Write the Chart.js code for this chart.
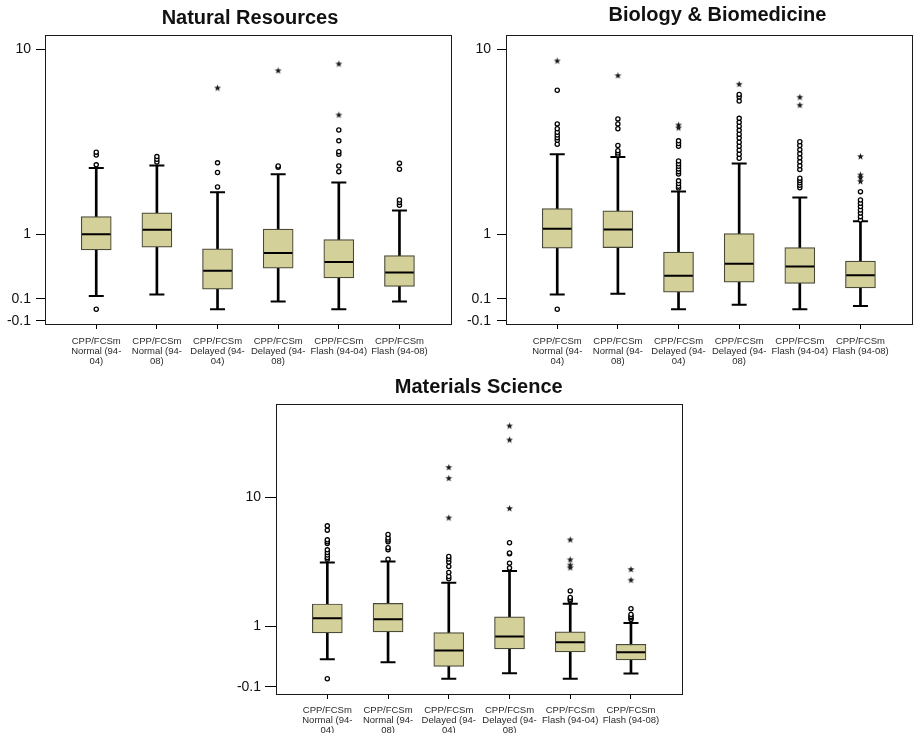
<!DOCTYPE html>
<html>
<head>
<meta charset="utf-8">
<script src="https://cdn.jsdelivr.net/npm/chart.js@4"></script>
<style>
  html, body { margin: 0; padding: 0; background: #ffffff; }
  body { width: 913px; height: 733px; position: relative; overflow: hidden; }
  .panel { position: absolute; }
</style>
</head>
<body>
<div class="panel" style="left:0px;top:0px;"><canvas id="c1" width="460" height="370"></canvas></div>
<div class="panel" style="left:460px;top:0px;"><canvas id="c2" width="453" height="370"></canvas></div>
<div class="panel" style="left:220px;top:370px;"><canvas id="c3" width="470" height="363"></canvas></div>
<script>
// ---------------- DATA ----------------
const categories = [
  ["CPP/FCSm", "Normal (94-", "04)"],
  ["CPP/FCSm", "Normal (94-", "08)"],
  ["CPP/FCSm", "Delayed (94-", "04)"],
  ["CPP/FCSm", "Delayed (94-", "08)"],
  ["CPP/FCSm", "Flash (94-04)"],
  ["CPP/FCSm", "Flash (94-08)"]
];
const yTicksTop = [10, 1, 0.1, -0.1];
const yTicksMat = [10, 1, -0.1];

const panelTitles = ["Natural Resources", "Biology & Biomedicine", "Materials Science"];

// Natural Resources
const nrLow  = [0.13, 0.146, 0, 0.075, 0, 0.075];
const nrQ1   = [0.73, 0.774, 0.204, 0.462, 0.336, 0.234];
const nrMed  = [1.0, 1.081, 0.426, 0.679, 0.545, 0.404];
const nrQ3   = [1.351, 1.433, 0.746, 1.094, 0.902, 0.642];
const nrHigh = [2.684, 2.763, 1.945, 2.476, 2.218, 1.485];
const nrCircles = [
  [0, 2.79, 3.15, 3.26],
  [2.89, 2.99, 3.09],
  [2.09, 2.53, 2.86],
  [2.71, 2.75],
  [2.56, 2.75, 3.18, 3.28, 3.73, 4.23],
  [1.61, 1.68, 1.74, 2.64, 2.85]
];
const nrStars = [[], [], [6.70], [8.03], [5.00, 8.61], []];

// Biology & Biomedicine
const bioLow  = [0.146, 0.153, 0, 0.042, 0, 0.030];
const bioQ1   = [0.758, 0.767, 0.171, 0.285, 0.269, 0.219];
const bioMed  = [1.100, 1.086, 0.362, 0.521, 0.483, 0.370];
const bioQ3   = [1.532, 1.479, 0.694, 1.010, 0.767, 0.559];
const bioHigh = [3.18, 3.07, 1.962, 2.84, 1.801, 1.254];
const bioCircles = [
  [0, 3.58, 3.75, 3.87, 3.99, 4.12, 4.29, 4.53, 6.54],
  [3.15, 3.23, 3.32, 3.53, 4.29, 4.53, 4.79],
  [2.06, 2.11, 2.19, 2.27, 2.48, 2.56, 2.65, 2.74, 2.83, 2.93, 3.50, 3.61, 3.73],
  [3.03, 3.18, 3.34, 3.50, 3.67, 3.85, 4.03, 4.21, 4.41, 4.61, 4.82, 5.83, 6.09, 6.26],
  [2.07, 2.14, 2.21, 2.28, 2.35, 2.63, 2.76, 2.90, 3.05, 3.20, 3.36, 3.53, 3.69],
  [1.28, 1.35, 1.43, 1.50, 1.58, 1.66, 1.74, 1.96]
];
const bioStars = [[8.88], [7.63], [4.33, 4.47], [6.97], [5.57, 6.07], [2.25, 2.37, 2.45, 3.09]];

// Materials Science
const matLow  = [0.294, 0.244, 0, 0.076, 0, 0.071];
const matQ1   = [0.835, 0.859, 0.176, 0.485, 0.428, 0.284];
const matMed  = [1.225, 1.195, 0.452, 0.747, 0.621, 0.419];
const matQ3   = [1.69, 1.71, 0.842, 1.266, 0.859, 0.578];
const matHigh = [3.66, 3.72, 2.564, 3.16, 1.70, 1.094];
const matCircles = [
  [0, 3.87, 3.98, 4.14, 4.32, 4.51, 4.99, 5.13, 5.29, 6.15, 6.57],
  [3.87, 4.51, 4.66, 5.13, 5.27, 5.44, 5.75],
  [2.76, 2.87, 3.08, 3.42, 3.69, 3.88, 4.05],
  [3.33, 3.62, 4.23, 4.28, 5.05],
  [1.81, 1.86, 1.93, 2.20],
  [1.19, 1.24, 1.28, 1.34, 1.53]
];
const matStars = [[], [], [7.41, 13.2, 15.4], [8.52, 22.6, 27.4], [3.35, 3.50, 3.83, 5.29], [2.69, 3.25]];

// ---------------- custom log(1+x) scale ----------------
class Log1pScale extends Chart.Scale {
  determineDataLimits() { this.min = this.options.min; this.max = this.options.max; }
  buildTicks() { return (this.options.tickValues || []).map(v => ({ value: v })); }
  getLabelForValue(v) { return String(v); }
  configure() {
    super.configure();
    this._lo = Math.log1p(this.min);
    this._hi = Math.log1p(this.max);
  }
  getPixelForValue(v) {
    return this.getPixelForDecimal((Math.log1p(v) - this._lo) / (this._hi - this._lo));
  }
  getValueForPixel(p) {
    return Math.expm1(this._lo + this.getDecimalForPixel(p) * (this._hi - this._lo));
  }
}
Log1pScale.id = 'log1p';
Log1pScale.defaults = {};
Chart.register(Log1pScale);

// ---------------- styling helpers ----------------
const FONT = '"Liberation Sans", Arial, Helvetica, sans-serif';
const BOX_FILL = '#d4d09a';
const BOX_EDGE = '#4a4a3a';

function makeStar() {
  const c = document.createElement('canvas');
  c.width = 9; c.height = 9;
  const g = c.getContext('2d');
  g.fillStyle = '#1a1a1a';
  g.beginPath();
  for (let i = 0; i < 10; i++) {
    const r = (i % 2 === 0) ? 3.6 : 1.5;
    const a = -Math.PI / 2 + i * Math.PI / 5;
    const px = 4.5 + r * Math.cos(a), py = 4.5 + r * Math.sin(a);
    if (i === 0) g.moveTo(px, py); else g.lineTo(px, py);
  }
  g.closePath();
  g.fill();
  return c;
}
const starImg = makeStar();

const frameAndTitle = {
  id: 'frameAndTitle',
  afterDatasetsDraw(chart, args, opts) {
    const { ctx, chartArea: a } = chart;
    ctx.save();
    ctx.strokeStyle = '#1a1a1a';
    ctx.lineWidth = 1;
    ctx.strokeRect(Math.round(a.left) + 0.5, Math.round(a.top) + 0.5,
                   Math.round(a.right - a.left), Math.round(a.bottom - a.top));
    ctx.fillStyle = '#111';
    ctx.font = 'bold 20px ' + FONT;
    ctx.textAlign = 'center';
    ctx.textBaseline = 'alphabetic';
    ctx.fillText(opts.text, opts.x, opts.baseline);
    ctx.restore();
  }
};

function buildChart(canvasId, cfg) {
  const n = categories.length;
  const idx = [...Array(n).keys()];
  const whiskers = idx.map(i => ({ x: i, y: [cfg.low[i], cfg.high[i]] }));
  const boxes = idx.map(i => ({ x: i, y: [cfg.q1[i], cfg.q3[i]] }));
  const caps = [];
  idx.forEach(i => { caps.push({ x: i, y: cfg.low[i] }); caps.push({ x: i, y: cfg.high[i] }); });
  const medians = idx.map(i => ({ x: i, y: cfg.med[i] }));
  const circles = [];
  cfg.circles.forEach((arr, i) => arr.forEach(v => circles.push({ x: i, y: v })));
  const stars = [];
  cfg.stars.forEach((arr, i) => arr.forEach(v => stars.push({ x: i, y: v })));

  return new Chart(document.getElementById(canvasId), {
    type: 'bar',
    data: {
      datasets: [
        { type: 'bar', data: whiskers, backgroundColor: '#000', borderWidth: 0,
          barThickness: 2, grouped: false, order: 5 },
        { type: 'bar', data: boxes, backgroundColor: BOX_FILL, borderColor: BOX_EDGE,
          borderWidth: 1.2, borderSkipped: false, barThickness: 30, grouped: false, order: 4 },
        { type: 'scatter', data: caps, pointStyle: 'line', radius: 7.5, borderWidth: 2,
          borderColor: '#000', backgroundColor: '#000', order: 3 },
        { type: 'scatter', data: medians, pointStyle: 'line', radius: 14.3, borderWidth: 2,
          borderColor: '#000', backgroundColor: '#000', order: 2 },
        { type: 'scatter', data: circles, pointStyle: 'circle', radius: 2.1, borderWidth: 1.3,
          borderColor: '#000', backgroundColor: '#fff', order: 1 },
        { type: 'scatter', data: stars, pointStyle: starImg, radius: 3, order: 0 }
      ]
    },
    options: {
      responsive: false,
      animation: false,
      events: [],
      layout: { autoPadding: false, padding: { top: cfg.padTop, right: cfg.padRight, left: 0, bottom: 0 } },
      plugins: {
        legend: { display: false },
        tooltip: { enabled: false },
        frameAndTitle: { text: cfg.title, x: cfg.titleX, baseline: cfg.titleBase }
      },
      scales: {
        x: {
          type: 'linear',
          bounds: 'data',
          offset: false,
          min: -0.845, max: 5.845,
          afterBuildTicks: s => { s.ticks = idx.map(v => ({ value: v })); },
          afterFit: s => { s.height = cfg.xHeight; s.paddingLeft = 0; s.paddingRight = 0; },
          grid: { display: true, offset: false, drawOnChartArea: false, color: '#000', tickLength: 5, lineWidth: 1 },
          border: { display: false },
          ticks: {
            autoSkip: false, maxRotation: 0, minRotation: 0,
            padding: cfg.xPad,
            color: '#2a2a2a',
            font: { family: FONT, size: 9.5, lineHeight: 1.02 },
            callback: v => categories[v]
          }
        },
        y: {
          type: 'log1p',
          min: cfg.yMin, max: cfg.yMax,
          tickValues: cfg.yTicks,
          afterFit: s => { s.width = cfg.yWidth; s.paddingTop = 0; s.paddingBottom = 0; },
          grid: { display: true, drawOnChartArea: false, color: '#000', tickLength: cfg.yTickLen, lineWidth: 1 },
          border: { display: false },
          ticks: {
            padding: cfg.yPad,
            color: '#111',
            font: { family: FONT, size: 14 },
            callback: v => String(v)
          }
        }
      }
    },
    plugins: [frameAndTitle]
  });
}

buildChart('c1', {
  title: panelTitles[0], titleX: 250, titleBase: 24,
  low: nrLow, q1: nrQ1, med: nrMed, q3: nrQ3, high: nrHigh, circles: nrCircles, stars: nrStars,
  yMin: -0.127, yMax: 11.59, yTicks: yTicksTop,
  padTop: 34.7, padRight: 9.3, yWidth: 45, xHeight: 46, yTickLen: 9, yPad: 5, xPad: 8
});
buildChart('c2', {
  title: panelTitles[1], titleX: 257.5, titleBase: 20.7,
  low: bioLow, q1: bioQ1, med: bioMed, q3: bioQ3, high: bioHigh, circles: bioCircles, stars: bioStars,
  yMin: -0.127, yMax: 11.59, yTicks: yTicksTop,
  padTop: 34.7, padRight: 1.3, yWidth: 46, xHeight: 46, yTickLen: 9, yPad: 6, xPad: 8
});
buildChart('c3', {
  title: panelTitles[2], titleX: 258.7, titleBase: 23.3,
  low: matLow, q1: matQ1, med: matMed, q3: matQ3, high: matHigh, circles: matCircles, stars: matStars,
  yMin: -0.183, yMax: 37.0, yTicks: yTicksMat,
  padTop: 34, padRight: 7.7, yWidth: 56, xHeight: 39, yTickLen: 11, yPad: 4, xPad: 7
});
</script>
</body>
</html>
